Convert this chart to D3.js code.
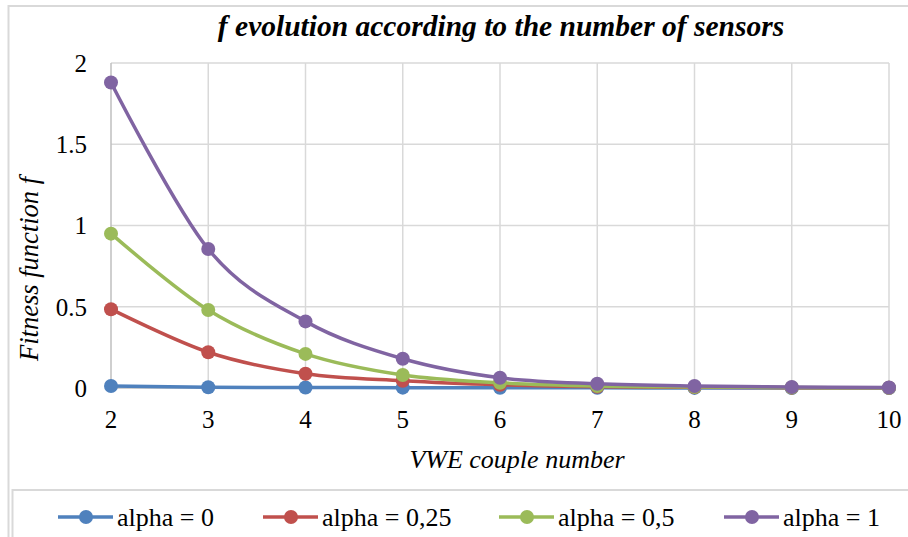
<!DOCTYPE html>
<html><head><meta charset="utf-8">
<script src="https://cdn.jsdelivr.net/npm/d3@7"></script>
<style>body{margin:0;background:#fff}</style>
</head><body>
<svg id="c" width="908" height="537">
<g id="ytl" font-family="Liberation Serif"><text></text><text></text><text></text><text></text><text></text></g>
<g id="xtl" font-family="Liberation Serif"><text></text><text></text><text></text><text></text><text></text><text></text><text></text><text></text><text></text></g>
<text id="title" font-family="Liberation Serif"></text>
<text id="xt" font-family="Liberation Serif"></text>
<text id="yt" font-family="Liberation Serif"></text>
<g id="lgt" font-family="Liberation Serif"><text></text><text></text><text></text><text></text></g>
</svg>
<script>
const xValues = [2,3,4,5,6,7,8,9,10];
const seriesNames = ["alpha = 0","alpha = 0,25","alpha = 0,5","alpha = 1"];
const alpha0   = [0.012,0.005,0.003,0.002,0.001,0.001,0.0005,0.0003,0.0002];
const alpha025 = [0.485,0.22,0.088,0.045,0.02,0.008,0.004,0.002,0.001];
const alpha05  = [0.95,0.48,0.21,0.08,0.032,0.012,0.006,0.003,0.001];
const alpha1   = [1.88,0.855,0.41,0.18,0.063,0.026,0.012,0.006,0.003];
const yTicks = [0,0.5,1,1.5,2];
const yTickLabels = ["0","0.5","1","1.5","2"];
const colors = ["#4F81BD","#C0504D","#9BBB59","#8064A2"];
const title = "f evolution according to the number of sensors";
const xTitle = "VWE couple number";
const yTitle = "Fitness function f";
const FONT = "Liberation Serif";

const svg = d3.select("#c");
const L=111,R=889,T=63,B=388;
const x = d3.scaleLinear().domain([2,10]).range([L,R]);
const y = d3.scaleLinear().domain([0,2]).range([B,T]);

const bg = svg.insert("g",":first-child");
// outer border
bg.append("rect").attr("x",8.5).attr("y",6).attr("width",920).attr("height",560)
  .attr("fill","none").attr("stroke","#d9d9d9").attr("stroke-width",2);
// legend box
bg.append("rect").attr("x",12.5).attr("y",490).attr("width",920).attr("height",80)
  .attr("fill","none").attr("stroke","#d9d9d9").attr("stroke-width",2);
// gridlines
bg.append("g").selectAll("line").data(yTicks.filter(d=>d>0)).join("line")
  .attr("x1",L).attr("x2",R).attr("y1",d=>y(d)).attr("y2",d=>y(d))
  .attr("stroke","#d9d9d9").attr("stroke-width",1.5);
bg.append("g").selectAll("line").data(xValues.slice(1)).join("line")
  .attr("x1",d=>x(d)).attr("x2",d=>x(d)).attr("y1",T).attr("y2",B)
  .attr("stroke","#d9d9d9").attr("stroke-width",1.5);
// axes lines
bg.append("line").attr("x1",L).attr("x2",L).attr("y1",T).attr("y2",B).attr("stroke","#bfbfbf").attr("stroke-width",1.5);
bg.append("line").attr("x1",L).attr("x2",R).attr("y1",B).attr("y2",B).attr("stroke","#bfbfbf").attr("stroke-width",1.5);

// tick labels
d3.select("#ytl").selectAll("text").data(yTicks)
  .attr("x",87).attr("y",d=>y(d)).attr("dy","0.35em").attr("text-anchor","end")
  .attr("font-size",25).attr("fill","#000").style("font-family",FONT).text((d,i)=>yTickLabels[i]);
d3.select("#xtl").selectAll("text").data(xValues)
  .attr("x",d=>x(d)).attr("y",428).attr("text-anchor","middle")
  .attr("font-size",25).attr("fill","#000").style("font-family",FONT).text(d=>d);

// titles
d3.select("#title").attr("x",501).attr("y",36).attr("text-anchor","middle").style("font-family",FONT)
  .attr("font-size",29.5).attr("font-weight","bold").attr("font-style","italic").text(title);
d3.select("#xt").attr("x",517).attr("y",468).attr("text-anchor","middle").style("font-family",FONT)
  .attr("font-size",26).attr("font-style","italic").text(xTitle);
d3.select("#yt").attr("transform","translate(38,269) rotate(-90)").attr("text-anchor","middle").style("font-family",FONT)
  .attr("font-size",26.5).attr("font-style","italic").text(yTitle);

const all = [alpha0,alpha025,alpha05,alpha1];
const line = d3.line().x((d,i)=>x(xValues[i])).y(d=>y(d)).curve(d3.curveCatmullRom.alpha(0));
all.forEach((s,k)=>{
  const g = svg.append("g");
  g.append("path").attr("d",line(s)).attr("fill","none").attr("stroke",colors[k]).attr("stroke-width",3.5);
  g.selectAll("circle").data(s).join("circle")
    .attr("cx",(d,i)=>x(xValues[i])).attr("cy",d=>y(d)).attr("r",7).attr("fill",colors[k]);
});

// legend
const legX = [58,263,499,724];
seriesNames.forEach((n,k)=>{
  const g = svg.append("g").attr("transform",`translate(${legX[k]},517)`);
  g.append("line").attr("x1",0).attr("x2",55).attr("stroke",colors[k]).attr("stroke-width",3.5);
  g.append("circle").attr("cx",28).attr("r",7).attr("fill",colors[k]);
});
d3.select("#lgt").selectAll("text").data(seriesNames)
  .attr("x",(d,i)=>legX[i]+59).attr("y",517).attr("dy","0.33em")
  .attr("font-size",26).style("font-family",FONT).text(d=>d);
</script>
</body></html>
